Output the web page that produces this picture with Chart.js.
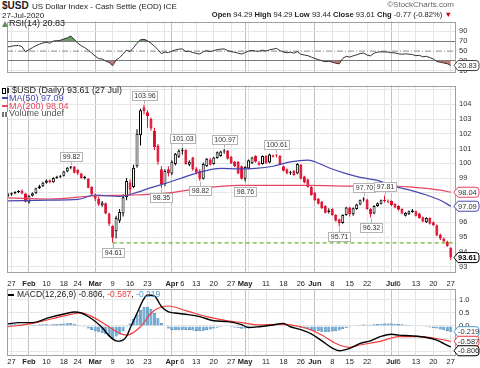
<!DOCTYPE html>
<html><head><meta charset="utf-8">
<script src="https://cdn.jsdelivr.net/npm/chart.js@4.4.1/dist/chart.umd.min.js"></script>
<style>
html,body{margin:0;padding:0;background:#fff;}
#wrap{position:relative;width:480px;height:368px;overflow:hidden;font-family:"Liberation Sans",Arial,sans-serif;color:#222;background:#fff;}
canvas{position:absolute;left:0;}
.t{position:absolute;white-space:nowrap;line-height:1;}
.ico{display:inline-block;vertical-align:middle;}
</style></head>
<body><div id="wrap">
<canvas id="cRsi" width="480" height="66" style="top:14px;width:480px;height:66px"></canvas>
<canvas id="cPrice" width="480" height="202" style="top:78px;width:480px;height:202px"></canvas>
<canvas id="cMacd" width="480" height="92" style="top:276px;width:480px;height:92px"></canvas>
<div class="t" style="left:2px;top:1px;font-size:10px;font-weight:bold">$USD</div>
<div class="t" style="left:32px;top:2.5px;font-size:8px">US Dollar Index - Cash Settle (EOD) ICE</div>
<div class="t" style="left:2px;top:12px;font-size:8px">27-Jul-2020</div>
<div class="t" style="right:26px;top:1px;font-size:8px;color:#666">&copy;StockCharts.com</div>
<div class="t" id="hdr" style="right:28px;top:11px;font-size:7.6px"></div>
<div class="t" id="lgRsi" style="left:2px;top:19px;font-size:9px"></div>
<div class="t" id="lgPrice" style="left:2px;top:86px;font-size:9px"></div>
<div class="t" id="lgMacd" style="left:8px;top:290px;font-size:8.5px"></div>
</div>
<script>
// ---------------- DATA ----------------
const dates = ("1/24 1/27 1/28 1/29 1/30 1/31 2/3 2/4 2/5 2/6 2/7 2/10 2/11 2/12 2/13 2/14 2/18 2/19 2/20 2/21 " +
 "2/24 2/25 2/26 2/27 2/28 3/2 3/3 3/4 3/5 3/6 3/9 3/10 3/11 3/12 3/13 3/16 3/17 3/18 3/19 3/20 " +
 "3/23 3/24 3/25 3/26 3/27 3/30 3/31 4/1 4/2 4/3 4/6 4/7 4/8 4/9 4/13 4/14 4/15 4/16 4/17 4/20 " +
 "4/21 4/22 4/23 4/24 4/27 4/28 4/29 4/30 5/1 5/4 5/5 5/6 5/7 5/8 5/11 5/12 5/13 5/14 5/15 5/18 " +
 "5/19 5/20 5/21 5/22 5/26 5/27 5/28 5/29 6/1 6/2 6/3 6/4 6/5 6/8 6/9 6/10 6/11 6/12 6/15 6/16 " +
 "6/17 6/18 6/19 6/22 6/23 6/24 6/25 6/26 6/29 6/30 7/1 7/2 7/6 7/7 7/8 7/9 7/10 7/13 7/14 7/15 " +
 "7/16 7/17 7/20 7/21 7/22 7/23 7/24 7/27").split(" ");

const open = [97.80,97.88,97.96,98.05,98.15,97.95,97.35,97.80,97.97,98.30,
 98.45,98.68,98.85,98.72,99.00,99.08,99.15,99.45,99.70,99.78,
 99.55,99.30,99.00,98.95,98.40,97.80,97.60,97.15,97.30,96.60,
 95.75,95.40,96.10,96.60,97.70,98.70,98.40,99.80,101.90,103.80,
 103.45,103.00,102.20,101.20,99.60,98.60,99.60,99.30,99.95,100.45,
 100.85,100.90,99.90,100.40,99.65,99.50,98.95,99.80,100.25,99.95,
 100.35,100.50,100.80,100.85,100.45,100.10,100.10,99.80,98.95,99.65,
 100.00,100.50,100.05,99.95,100.50,100.05,100.45,100.55,100.50,99.80,
 99.60,99.35,99.50,99.30,99.90,99.10,98.90,98.40,98.00,97.60,
 97.40,97.10,96.70,96.90,96.50,96.20,95.95,96.50,97.00,96.55,
 96.90,97.20,97.55,97.55,96.90,96.60,97.10,97.25,97.45,97.40,
 97.45,97.25,97.10,96.90,96.45,96.55,96.70,96.75,96.60,96.35,
 96.00,96.30,96.00,95.80,95.15,94.90,94.70,94.29];
const high = [97.98,98.02,98.10,98.18,98.22,97.98,97.85,98.02,98.35,98.55,
 98.75,98.90,98.90,99.05,99.15,99.20,99.50,99.75,99.82,99.80,
 99.60,99.35,99.15,99.00,98.45,97.95,97.75,97.45,97.35,96.65,
 95.80,96.45,96.90,97.90,99.00,98.90,99.90,102.30,103.70,103.96,
 103.60,103.10,102.40,101.30,99.80,99.60,99.80,100.20,100.70,100.95,
 101.03,100.95,100.20,100.45,99.75,99.60,100.05,100.35,100.35,100.45,
 100.80,100.85,100.97,100.90,100.50,100.15,100.15,99.85,99.80,100.25,
 100.45,100.55,100.15,100.55,100.55,100.65,100.58,100.61,100.55,99.85,
 99.65,99.50,99.55,100.00,99.95,99.15,98.95,98.45,98.05,97.65,
 97.45,97.15,96.95,96.95,96.55,96.25,96.55,97.05,97.05,97.00,
 97.25,97.55,97.70,97.60,96.95,97.15,97.35,97.55,97.81,97.55,
 97.50,97.30,97.15,96.95,96.70,96.80,96.90,96.80,96.65,96.40,
 96.35,96.35,96.05,95.85,95.25,94.95,94.75,94.29];
const low = [97.72,97.80,97.90,97.98,97.90,97.35,97.28,97.75,97.92,98.25,
 98.40,98.62,98.65,98.68,98.95,99.00,99.10,99.40,99.60,99.30,
 99.20,98.95,98.90,98.30,97.80,97.45,97.10,97.05,96.55,95.75,
 94.61,94.90,95.95,96.40,97.50,97.90,98.30,99.70,101.20,103.30,
 102.40,102.20,100.90,99.90,98.35,98.45,99.10,99.20,99.85,100.35,
 100.60,99.90,99.80,99.50,99.25,98.82,98.90,99.75,99.85,99.90,
 100.30,100.45,100.65,100.25,99.95,99.75,99.25,98.90,98.76,99.60,
 99.95,100.05,99.85,99.90,99.95,100.00,100.40,100.40,99.90,99.45,
 99.25,99.20,99.15,99.25,98.90,98.65,98.35,97.80,97.45,97.20,
 96.90,96.60,96.60,96.45,96.05,95.71,95.90,96.45,96.40,96.45,
 96.85,97.15,97.40,96.85,96.32,96.55,97.05,97.20,97.35,97.30,
 97.10,96.95,96.80,96.55,96.40,96.50,96.65,96.40,96.25,96.00,
 95.95,95.85,95.75,95.05,94.80,94.65,94.35,93.44];
const close = [97.90,97.97,98.05,98.12,97.95,97.40,97.80,97.97,98.30,98.45,
 98.68,98.83,98.72,99.00,99.08,99.12,99.45,99.70,99.78,99.35,
 99.30,98.98,99.03,98.35,97.90,97.60,97.20,97.35,96.60,95.90,
 94.95,96.30,96.70,97.70,98.80,98.20,99.70,102.00,103.60,103.55,
 103.20,102.35,101.10,100.10,98.60,99.50,99.30,100.10,100.65,100.85,
 100.90,99.95,100.10,99.60,99.35,98.95,99.95,100.30,99.90,100.40,
 100.75,100.80,100.82,100.30,100.00,99.80,99.30,98.95,99.75,100.20,
 100.40,100.10,99.90,100.50,100.00,100.60,100.55,100.52,99.95,99.50,
 99.30,99.40,99.20,99.95,98.95,98.70,98.40,97.85,97.50,97.25,
 96.95,96.65,96.80,96.50,96.10,95.95,96.50,97.00,96.55,96.95,
 97.20,97.50,97.60,96.90,96.55,97.10,97.30,97.50,97.48,97.42,
 97.15,97.00,96.85,96.60,96.65,96.75,96.80,96.45,96.30,96.05,
 96.30,95.90,95.80,95.10,94.90,94.70,94.38,93.61];

// moving averages: [bar index, value]
const ma50Pts = [[0,97.45],[12,97.5],[20,97.55],[25,97.85],[28,97.8],[32,97.75],[36,97.95],[41,98.35],[46,98.7],
 [51,99.1],[56,99.45],[61,99.65],[66,99.62],[71,99.65],[76,99.8],[81,100.1],[86,100.22],[88,100.1],[92,99.7],
 [97,99.3],[101,99.05],[106,98.84],[110,98.48],[115,98.2],[120,97.85],[124,97.5],[127,97.09]];
const ma200Pts = [[0,97.65],[12,97.58],[25,97.8],[36,97.85],[46,98.0],[55,98.3],[66,98.5],[76,98.5],[86,98.5],
 [101,98.45],[109,98.46],[115,98.4],[120,98.3],[124,98.18],[127,98.04]];

const rsi = [58.5,60,61,61.5,59,48.5,53,57,61,64,
 66.5,68,66,70.5,71,72,74.5,77,80.5,74,
 66,61,57,52,46,40,35,34,30,27,
 20.5,32,37,44,52,49,57,66,73,74,
 71,66,60,53,45,48,47,50,52.5,54,
 54.5,49,50,47,45.5,44,49,51,49,51,
 53,54,54.5,51,49,47.5,46,44,47,50,
 51.5,50,49.7,52,50,52.7,54,55.6,51,48,
 46.7,47.9,46,49,43.8,42,40.8,38,35,33,
 30.5,28.5,29.5,27.5,25.5,24.2,35,39.6,37.9,40.5,
 42.5,45,46,42,40.5,46,48,48.5,48.5,48,
 46.7,46.5,44.5,43.8,44.5,43.8,43,40.8,41.5,38.5,
 39.5,37,34,29,27.5,26,24.5,20.83];

const macdPts = [[0,0.08],[3,0.13],[7,0.13],[12,0.33],[17,0.49],[19,0.54],[21,0.5],[24,0.28],[27,-0.06],[29,-0.38],
 [31,-0.57],[32,-0.58],[34,-0.4],[35,-0.09],[37,0.49],[39,1.05],[40,1.19],[42,1.15],[44,0.75],[46,0.54],[48,0.5],
 [51,0.45],[55,0.36],[59,0.2],[63,0.17],[67,0.05],[69,-0.06],[72,-0.03],[76,0.04],[79,0.1],[81,-0.03],[84,-0.14],
 [87,-0.3],[90,-0.57],[93,-0.85],[95,-0.95],[98,-0.86],[101,-0.67],[104,-0.57],[107,-0.4],[110,-0.32],[112,-0.35],
 [116,-0.38],[120,-0.44],[123,-0.54],[125,-0.68],[127,-0.806]];
const signalPts = [[0,-0.03],[7,0.1],[17,0.42],[21,0.51],[24,0.37],[28,0.05],[32,-0.28],[34,-0.35],[38,-0.03],
 [41,0.49],[44,0.74],[46,0.77],[51,0.59],[57,0.36],[63,0.2],[67,0.13],[72,0.04],[78,0.06],[84,-0.03],[89,-0.28],
 [95,-0.73],[98,-0.82],[101,-0.73],[107,-0.58],[112,-0.41],[118,-0.41],[124,-0.51],[127,-0.587]];
const hist = [0.06,0.07,0.07,0.06,0.04,0.02,0.03,0.04,0.05,0.06,
 0.07,0.07,0.06,0.07,0.08,0.09,0.10,0.11,0.12,0.09,
 0.04,-0.01,-0.05,-0.10,-0.15,-0.20,-0.24,-0.27,-0.32,-0.38,
 -0.46,-0.40,-0.33,-0.20,-0.05,0.10,0.27,0.45,0.62,0.73,
 0.74,0.65,0.50,0.32,0.12,-0.02,-0.10,-0.15,-0.16,-0.16,
 -0.14,-0.15,-0.15,-0.17,-0.19,-0.20,-0.18,-0.15,-0.13,-0.10,
 -0.07,-0.04,-0.02,-0.02,-0.04,-0.06,-0.08,-0.11,-0.10,-0.08,
 -0.06,-0.05,-0.05,-0.03,-0.02,0.00,0.02,0.03,0.03,0.01,
 -0.02,-0.04,-0.05,-0.05,-0.08,-0.10,-0.12,-0.15,-0.18,-0.20,
 -0.22,-0.23,-0.22,-0.21,-0.20,-0.17,-0.12,-0.08,-0.05,-0.02,
 0.01,0.04,0.06,0.05,0.05,0.07,0.08,0.09,0.10,0.10,
 0.10,0.09,0.08,0.07,0.05,0.04,0.02,0.00,-0.01,-0.03,
 -0.04,-0.06,-0.08,-0.10,-0.13,-0.16,-0.19,-0.219];

// annotated highs / lows
const hiLoDates = ["2/20","3/20","4/6","4/23","5/14","6/19","6/29","3/9","3/27","4/14","5/1","6/10","6/23"];
const hiLoKind  = ["H","H","H","H","H","H","H","L","L","L","L","L","L"];
const supportDate = "3/9";

// x-axis ticks
const tickDates = ["1/27","2/3","2/10","2/18","2/24","3/2","3/9","3/16","3/23","3/30","4/1","4/6","4/13","4/20","4/27",
 "5/1","5/4","5/11","5/18","5/26","6/1","6/8","6/15","6/22","6/29","7/1","7/6","7/13","7/20","7/27"];
const tickLabels = ["27","Feb","10","18","24","Mar","9","16","23","","Apr","6","13","20","27",
 "May","","11","18","26","Jun","8","15","22","","Jul","6","13","20","27"];
const priceTicks = [93,94,95,96,97,98,99,100,101,102,103,104,105];
const rsiTicks = [10,30,50,70,90];
const macdTicks = [-1,-0.5,0,0.5,1];

// ---------------- STYLE ----------------
const F = '"Liberation Sans", Arial, sans-serif';
Chart.defaults.font.family = F;
const BLACK = '#000', RED = '#dd0a2c', BLUE = '#4646b0', PINK = '#e6465f', GREEN = '#6ab42c', HBLUE = '#4a9ad2';
const N = dates.length, last = N - 1;
const XMIN = -0.3, XMAX = 128.5;
const tickPos = tickDates.map(d => dates.indexOf(d));
const monthPos = new Set(tickPos.filter((p, k) => /[A-Za-z]/.test(tickLabels[k])));
const P = a => a.map(([x, y]) => ({x, y}));

function xAxis(showLabels, position, height, grid) {
  return {
    type: 'linear', position, min: XMIN, max: XMAX, offset: false,
    afterBuildTicks: s => { s.ticks = tickPos.map(v => ({value: v})); },
    afterFit: s => { s.height = height; },
    ticks: { display: showLabels, autoSkip: false, maxRotation: 0, minRotation: 0, padding: 1, color: '#222',
      callback: (v, k) => tickLabels[k],
      font: c => ({family: F, size: 7.5, weight: (c.tick && monthPos.has(c.tick.value)) ? 'bold' : 'normal'}) },
    grid: { display: grid, offset: false, drawTicks: false,
      color: c => (c.tick && monthPos.has(c.tick.value)) ? '#c2c2c2' : '#e6e6e6' },
    border: { display: false }
  };
}
function yAxis(min, max, ticksArr, fmt, gridColor) {
  return {
    position: 'right', min, max, beginAtZero: false,
    afterBuildTicks: s => { s.ticks = ticksArr.map(v => ({value: v})); },
    afterFit: s => { s.width = 24; },
    ticks: { padding: 3, color: '#333', font: {family: F, size: 7.5}, callback: fmt, autoSkip: false },
    grid: { drawTicks: false, color: gridColor },
    border: { display: false }
  };
}
const frame = { id: 'frame', afterDraw(ch) {
  const {ctx, chartArea: a} = ch; ctx.save(); ctx.strokeStyle = '#a0a0a0'; ctx.lineWidth = 1;
  ctx.strokeRect(Math.round(a.left) + 0.5, Math.round(a.top) + 0.5, Math.round(a.right - a.left) - 1, Math.round(a.bottom - a.top) - 1);
  ctx.restore(); } };
const badges = { id: 'badges', afterDraw(ch, args, opts) {
  const items = (opts.items || []).map(it => Object.assign({}, it, {py: ch.scales.y.getPixelForValue(it.value)}));
  items.sort((p, q) => p.py - q.py);
  for (let k = 1; k < items.length; k++) if (items[k].py - items[k - 1].py < 9.5) items[k].py = items[k - 1].py + 9.5;
  const ctx = ch.ctx, a = ch.chartArea; ctx.save();
  for (const p of items) {
    const x0 = a.right - 2, x1 = 479, h = 10, y0 = p.py - h / 2;
    ctx.beginPath(); ctx.moveTo(x0, p.py); ctx.lineTo(x0 + 4, y0); ctx.lineTo(x1 - 3, y0);
    ctx.quadraticCurveTo(x1, y0, x1, y0 + 3); ctx.lineTo(x1, y0 + h - 3); ctx.quadraticCurveTo(x1, y0 + h, x1 - 3, y0 + h);
    ctx.lineTo(x0 + 4, y0 + h); ctx.closePath();
    ctx.fillStyle = '#fff'; ctx.fill(); ctx.strokeStyle = p.color; ctx.lineWidth = 1; ctx.stroke();
    ctx.fillStyle = p.bold ? '#000' : '#333'; ctx.font = (p.bold ? 'bold ' : '') + '7.5px ' + F;
    ctx.textAlign = 'left'; ctx.textBaseline = 'middle'; ctx.fillText(p.text, x0 + 4, p.py + 0.5);
  }
  ctx.restore(); } };
const callouts = { id: 'callouts', afterDatasetsDraw(ch) {
  const xs = ch.scales.x, ys = ch.scales.y, ctx = ch.ctx; ctx.save();
  ctx.font = '7px ' + F;
  hiLoDates.forEach((d, k) => {
    const i = dates.indexOf(d), up = hiLoKind[k] === 'H', v = up ? high[i] : low[i];
    const px = Math.round(xs.getPixelForValue(i)), py = ys.getPixelForValue(v);
    const txt = v.toFixed(2), w = Math.round(ctx.measureText(txt).width) + 4, h = 9;
    const by = Math.round(up ? py - 5 - h : py + 5), bx = Math.round(px - w / 2);
    ctx.strokeStyle = '#b4b4b4'; ctx.lineWidth = 1;
    ctx.beginPath(); ctx.moveTo(px + 0.5, up ? by + h : by); ctx.lineTo(px + 0.5, up ? py - 1 : py + 1); ctx.stroke();
    ctx.fillStyle = '#fff'; ctx.fillRect(bx, by, w, h); ctx.strokeRect(bx + 0.5, by + 0.5, w, h);
    ctx.fillStyle = '#333'; ctx.textAlign = 'center'; ctx.textBaseline = 'middle';
    ctx.fillText(txt, bx + w / 2 + 0.5, by + h / 2 + 1);
  });
  ctx.restore(); } };

const base = { responsive: false, animation: false, devicePixelRatio: 1, events: [] };

// ---------------- RSI ----------------
const rsiData = rsi.map((v, i) => ({x: i, y: v}));
new Chart(document.getElementById('cRsi'), {
  type: 'line',
  data: { datasets: [
    { data: rsiData, borderColor: '#333', borderWidth: 1, pointRadius: 0, fill: false, order: 0 },
    { data: [{x: XMIN, y: 50}, {x: XMAX, y: 50}], borderColor: '#8a8a8a', borderWidth: 1, borderDash: [6, 2, 1, 2], pointRadius: 0, order: 1 },
    { data: rsiData, borderWidth: 0, pointRadius: 0, order: 5, fill: {target: {value: 70}, above: '#6c9c6c', below: 'rgba(0,0,0,0)'} },
    { data: rsiData, borderWidth: 0, pointRadius: 0, order: 6, fill: {target: {value: 30}, above: 'rgba(0,0,0,0)', below: '#c87474'} }
  ]},
  options: Object.assign({}, base, {
    layout: { padding: {left: 7, right: 0, top: 2, bottom: 2} },
    plugins: { legend: {display: false}, tooltip: {enabled: false},
      badges: { items: [{value: rsi[last], text: rsi[last].toFixed(2), color: '#444'}] } },
    scales: {
      x: xAxis(false, 'bottom', 0, true),
      y: yAxis(6.7, 110, rsiTicks, v => String(v), c => (c.tick && (c.tick.value === 70 || c.tick.value === 30)) ? '#7a7a7a' : (c.tick && c.tick.value === 50 ? 'rgba(0,0,0,0)' : '#e6e6e6'))
    }
  }),
  plugins: [frame, badges]
});

// ---------------- PRICE ----------------
const cColor = close.map((c, i) => (i === 0 ? c >= open[i] : c >= close[i - 1]) ? BLACK : RED);
const cFill = close.map((c, i) => c > open[i] ? '#ffffff' : cColor[i]);
const sIdx = dates.indexOf(supportDate);
const ma50Last = ma50Pts[ma50Pts.length - 1][1], ma200Last = ma200Pts[ma200Pts.length - 1][1];
new Chart(document.getElementById('cPrice'), {
  type: 'bar',
  data: { datasets: [
    { type: 'line', data: [{x: sIdx, y: low[sIdx]}, {x: XMAX, y: low[sIdx]}], borderColor: GREEN, borderWidth: 1.4, borderDash: [4, 3], pointRadius: 0, order: 0 },
    { type: 'line', data: P(ma50Pts), borderColor: BLUE, borderWidth: 1.2, pointRadius: 0, cubicInterpolationMode: 'monotone', order: 1 },
    { type: 'line', data: P(ma200Pts), borderColor: PINK, borderWidth: 1.2, pointRadius: 0, cubicInterpolationMode: 'monotone', order: 1 },
    { type: 'bar', data: open.map((o, i) => ({x: i, y: [o, close[i]]})), backgroundColor: cFill, borderColor: cColor,
      borderWidth: 1, borderSkipped: false, barThickness: 3, grouped: false, minBarLength: 1, inflateAmount: 0, order: 2 },
    { type: 'bar', data: low.map((l, i) => ({x: i, y: [l, high[i]]})), backgroundColor: cColor, borderWidth: 0,
      barThickness: 1, grouped: false, inflateAmount: 0, order: 3 }
  ]},
  options: Object.assign({}, base, {
    layout: { padding: {left: 7, right: 0, top: 1, bottom: 2} },
    plugins: { legend: {display: false}, tooltip: {enabled: false},
      badges: { items: [
        {value: ma200Last, text: ma200Last.toFixed(2), color: PINK},
        {value: ma50Last, text: ma50Last.toFixed(2), color: BLUE},
        {value: close[last], text: close[last].toFixed(2), color: '#000', bold: true}] } },
    scales: {
      x: xAxis(false, 'bottom', 0, true),
      y: yAxis(92.6, 105.27, priceTicks, v => v === 105 ? '' : String(v), '#e6e6e6')
    }
  }),
  plugins: [frame, callouts, badges]
});

// ---------------- MACD ----------------
const macdLast = macdPts[macdPts.length - 1][1], sigLast = signalPts[signalPts.length - 1][1];
new Chart(document.getElementById('cMacd'), {
  type: 'bar',
  data: { datasets: [
    { type: 'line', data: P(macdPts), borderColor: '#000', borderWidth: 1.4, pointRadius: 0, cubicInterpolationMode: 'monotone', order: 0 },
    { type: 'line', data: P(signalPts), borderColor: '#f23a3a', borderWidth: 1.2, pointRadius: 0, cubicInterpolationMode: 'monotone', order: 1 },
    { type: 'bar', data: hist.map((h, i) => ({x: i, y: h})), backgroundColor: '#6aaad8', borderColor: '#2a6a9c', borderWidth: 0.6,
      barThickness: 3, grouped: false, inflateAmount: 0, order: 2 }
  ]},
  options: Object.assign({}, base, {
    layout: { padding: {left: 7, right: 0, top: 0, bottom: 0} },
    plugins: { legend: {display: false}, tooltip: {enabled: false},
      badges: { items: [
        {value: hist[last], text: hist[last].toFixed(3), color: HBLUE},
        {value: sigLast, text: sigLast.toFixed(3), color: '#f23a3a'},
        {value: macdLast, text: macdLast.toFixed(3), color: '#000'}] } },
    scales: {
      x: xAxis(true, 'bottom', 12, true),
      x2: xAxis(true, 'top', 13, false),
      y: yAxis(-1.154, 1.423, macdTicks, v => v.toFixed(1), '#e6e6e6')
    }
  }),
  plugins: [frame, badges]
});

// ---------------- TEXT ----------------
const chg = close[last] - close[last - 1], pct = chg / close[last - 1] * 100;
document.getElementById('hdr').innerHTML =
  '<b>Open</b> ' + open[last].toFixed(2) + ' <b>High</b> ' + high[last].toFixed(2) + ' <b>Low</b> ' + low[last].toFixed(2) +
  ' <b>Close</b> ' + close[last].toFixed(2) + ' <b>Chg</b> ' + chg.toFixed(2) + ' (' + pct.toFixed(2) + '%) <span style="color:#c00">&#9660;</span>';
document.getElementById('lgRsi').innerHTML =
  '<span class="ico" style="width:0;height:0;border-left:3px solid transparent;border-right:3px solid transparent;border-bottom:6px solid #5c8f5c;margin-right:1px"></span>' +
  'RSI(14) ' + rsi[last].toFixed(2);
document.getElementById('lgPrice').innerHTML =
  '<div style="height:7.8px"><span class="ico" style="width:2px;height:4px;border:1px solid #000;background:#fff;margin-right:1px"></span><span class="ico" style="width:2px;height:5px;background:#333;margin-right:3px"></span>$USD (Daily) ' + close[last].toFixed(2) + ' (27 Jul)</div>' +
  '<div style="height:7.8px;color:' + BLUE + '"><span class="ico" style="width:6px;height:2px;background:' + BLUE + ';margin-right:1px"></span>MA(50) ' + ma50Last.toFixed(2) + '</div>' +
  '<div style="height:7.8px;color:' + PINK + '"><span class="ico" style="width:6px;height:2px;background:' + PINK + ';margin-right:1px"></span>MA(200) ' + ma200Last.toFixed(2) + '</div>' +
  '<div style="height:7.8px;color:#555"><span class="ico" style="width:6px;height:5px;background:linear-gradient(90deg,#777 0 2px,#fff 2px 3px,#777 3px 5px,#fff 5px);margin-right:1px"></span>Volume undef</div>';
document.getElementById('lgMacd').innerHTML =
  '<span class="ico" style="width:6px;height:2px;background:#000;margin-right:3px"></span>MACD(12,26,9) ' + macdLast.toFixed(3) +
  ', <span style="color:#f23a3a">' + sigLast.toFixed(3) + '</span>, <span style="color:' + HBLUE + '">' + hist[last].toFixed(3) + '</span>';
</script>
</body></html>
